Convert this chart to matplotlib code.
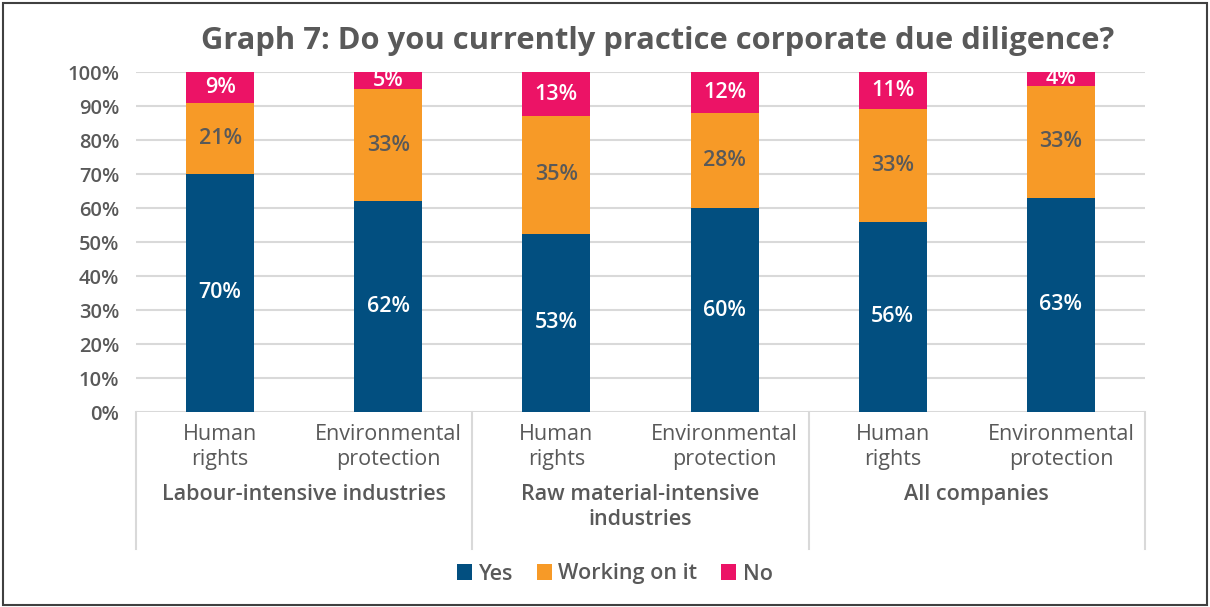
import matplotlib
matplotlib.use("Agg")
import matplotlib.pyplot as plt
import matplotlib.transforms as mtransforms
from matplotlib.patches import Rectangle
import numpy as np

plt.rcParams['font.family'] = ['Open Sans', 'DejaVu Sans']

# data (percent)
categories = ['Human\nrights', 'Environmental\nprotection'] * 3
groups = ['Labour-intensive industries', 'Raw material-intensive\nindustries', 'All companies']
yes = [70, 62, 52.5, 60, 56, 63]
working = [21, 33, 34.5, 28, 33, 33]
no = [9, 5, 13, 12, 11, 4]
series_names = ['Yes', 'Working on it', 'No']
colors = ['#024F80', '#F79A27', '#EC1366']
label_colors = ['white', '#595959', 'white']
text_gray = '#595959'
grid_gray = '#D9D9D9'

W, H = 1210, 607
fig = plt.figure(figsize=(W / 100, H / 100), dpi=100)
ax = fig.add_axes([136 / W, 1 - 412 / H, (1145 - 136) / W, (412 - 72) / H])

x = np.arange(len(categories))
bottom = np.zeros(len(x))
for vals, name, c, lc in zip([yes, working, no], series_names, colors, label_colors):
    vals = np.array(vals, dtype=float)
    bars = ax.bar(x, vals, width=0.405, bottom=bottom, color=c, label=name, zorder=3)
    ax.bar_label(bars, labels=[f'{int(v + 0.5)}%' for v in vals], label_type='center',
                 color=lc, fontsize=15.5, fontweight='semibold')
    bottom += vals

ax.set_xlim(-0.5, len(x) - 0.5)
ax.set_ylim(0, 100)
ax.set_yticks(np.arange(0, 101, 10))
ax.set_yticklabels([f'{v}%' for v in range(0, 101, 10)], color=text_gray,
                   fontsize=14.5, fontweight='semibold')
ax.tick_params(axis='y', length=0, pad=12)
ax.tick_params(axis='x', length=0)
ax.set_xticks([])
ax.grid(axis='y', color=grid_gray, linewidth=1.5, zorder=0)
for s in ax.spines.values():
    s.set_visible(False)

trans = mtransforms.blended_transform_factory(ax.transData, ax.transAxes)
px = 1 / (412 - 72)  # one pixel in axes units
# category labels
for xi, lab in zip(x, categories):
    ax.text(xi, -(447 - 412) * px, lab, transform=trans, ha='center', va='center',
            fontsize=15.5, color=text_gray, linespacing=1.25)
# group labels
for gi, g in enumerate(groups):
    ax.text(2 * gi + 0.5, -(484 - 412) * px, g, transform=trans, ha='center', va='top',
            fontsize=15.5, color=text_gray, fontweight='semibold', linespacing=1.25)
# group separators
for b in [-0.5, 1.5, 3.5, 5.5]:
    ax.plot([b, b], [0, -(549 - 412) * px], transform=trans, color=grid_gray,
            linewidth=1.5, clip_on=False)

fig.text(658 / W, 1 - 41 / H, 'Graph 7: Do you currently practice corporate due diligence?',
         ha='center', va='center', fontsize=22.2, fontweight='bold', color=text_gray)

leg = fig.legend(loc='center', bbox_to_anchor=(615 / W, 1 - 574 / H), ncol=3, frameon=False,
                 fontsize=15.5, handlelength=0.7, handleheight=0.7, handletextpad=0.3,
                 columnspacing=1.1)
for t in leg.get_texts():
    t.set_color(text_gray)
    t.set_fontweight('semibold')

fig.patches.append(Rectangle((3 / W, 2 / H), 1 - 6 / W, 1 - 5 / H, transform=fig.transFigure,
                             fill=False, edgecolor='#404040', linewidth=1.5))

fig.savefig('out.png', dpi=100)
